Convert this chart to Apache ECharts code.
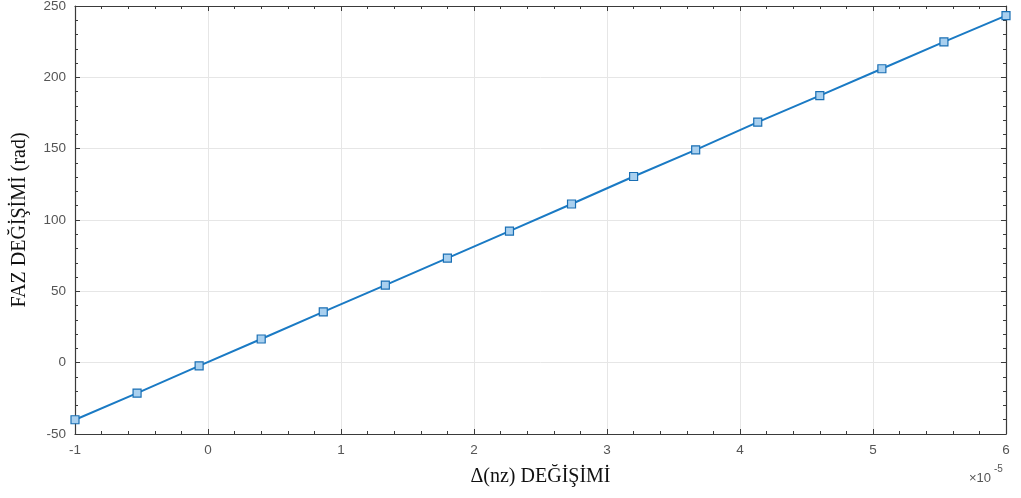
<!DOCTYPE html>
<html>
<head>
<meta charset="utf-8">
<script src="https://cdn.jsdelivr.net/npm/echarts@6/dist/echarts.min.js"></script>
<style>html,body{margin:0;padding:0;background:#fff;}#chart{width:1021px;height:498px;}</style>
</head>
<body>
<div id="chart"></div>
<script>
// x values in units of 1e-5
const xValues = [-1, -0.5333, -0.0667, 0.4, 0.8667, 1.3333, 1.8, 2.2667, 2.7333, 3.2, 3.6667, 4.1333, 4.6, 5.0667, 5.5333, 6];
const yValues = [-40, -21.3, -2.2, 16.6, 35.6, 54.4, 73.3, 92.2, 111.2, 130.5, 149.2, 168.6, 187.2, 206.0, 224.8, 243.2];
const xTicks = [-1, 0, 1, 2, 3, 4, 5, 6];
const yTicks = [-50, 0, 50, 100, 150, 200, 250];
const xTitle = 'Δ(nz) DEĞİŞİMİ';
const yTitle = 'FAZ DEĞİŞİMİ (rad)';
const exponentBase = '×10';
const exponentPower = '-5';

const axisColor = '#3a3a3a';
const labelColor = '#555555';
const gridColor = '#e6e6e6';

const chart = echarts.init(document.getElementById('chart'));
const data = xValues.map((x, i) => [x, yValues[i]]);
const baseAxisLine = { show: true, onZero: false, lineStyle: { color: axisColor, width: 1.2 } };
const tickStyle = { show: true, inside: true, length: 5, lineStyle: { color: axisColor } };
const minorTick = { show: true, splitNumber: 5, length: 3, lineStyle: { color: axisColor } };
const labelFont = { color: labelColor, fontFamily: 'Liberation Sans, Arial', fontSize: 13.5, margin: 9 };
const titleFont = { color: '#111', fontFamily: 'Liberation Serif, Times New Roman', fontSize: 20 };

chart.setOption({
  animation: false,
  backgroundColor: '#fff',
  grid: { left: 75, right: 15, top: 6, bottom: 64, containLabel: false, outerBoundsMode: 'none' },
  xAxis: [{
    type: 'value', min: xTicks[0], max: xTicks[xTicks.length - 1], interval: 1,
    axisLine: baseAxisLine, axisTick: tickStyle,
    minorTick: Object.assign({}, minorTick),
    splitLine: { show: true, lineStyle: { color: gridColor } },
    axisLabel: labelFont,
    name: xTitle, nameLocation: 'middle', nameGap: 33,
    nameTextStyle: titleFont
  }, {
    type: 'value', position: 'top', min: xTicks[0], max: xTicks[xTicks.length - 1], interval: 1,
    axisLine: baseAxisLine, axisTick: tickStyle, minorTick: Object.assign({}, minorTick),
    splitLine: { show: false }, axisLabel: { show: false }
  }],
  yAxis: [{
    type: 'value', min: yTicks[0], max: yTicks[yTicks.length - 1], interval: 50,
    axisLine: baseAxisLine, axisTick: tickStyle, minorTick: Object.assign({}, minorTick),
    splitLine: { show: true, lineStyle: { color: gridColor } },
    axisLabel: labelFont,
    name: yTitle, nameLocation: 'middle', nameGap: 45,
    nameTextStyle: titleFont
  }, {
    type: 'value', position: 'right', min: yTicks[0], max: yTicks[yTicks.length - 1], interval: 50,
    axisLine: baseAxisLine, axisTick: tickStyle, minorTick: Object.assign({}, minorTick),
    splitLine: { show: false }, axisLabel: { show: false }
  }],
  graphic: [{
    type: 'text', left: 969, top: 472,
    style: { text: exponentBase, fontFamily: 'Liberation Sans, Arial', fontSize: 13, fill: labelColor }
  }, {
    type: 'text', left: 994, top: 464,
    style: { text: exponentPower, fontFamily: 'Liberation Sans, Arial', fontSize: 10, fill: labelColor }
  }],
  series: [{
    type: 'line', data: data, xAxisIndex: 0, yAxisIndex: 0,
    symbol: 'rect', symbolSize: 8,
    lineStyle: { color: '#1a7ac4', width: 2 },
    itemStyle: { color: '#a9d0ef', borderColor: '#1a6fb4', borderWidth: 1.2 },
    z: 5
  }]
});
</script>
</body>
</html>
